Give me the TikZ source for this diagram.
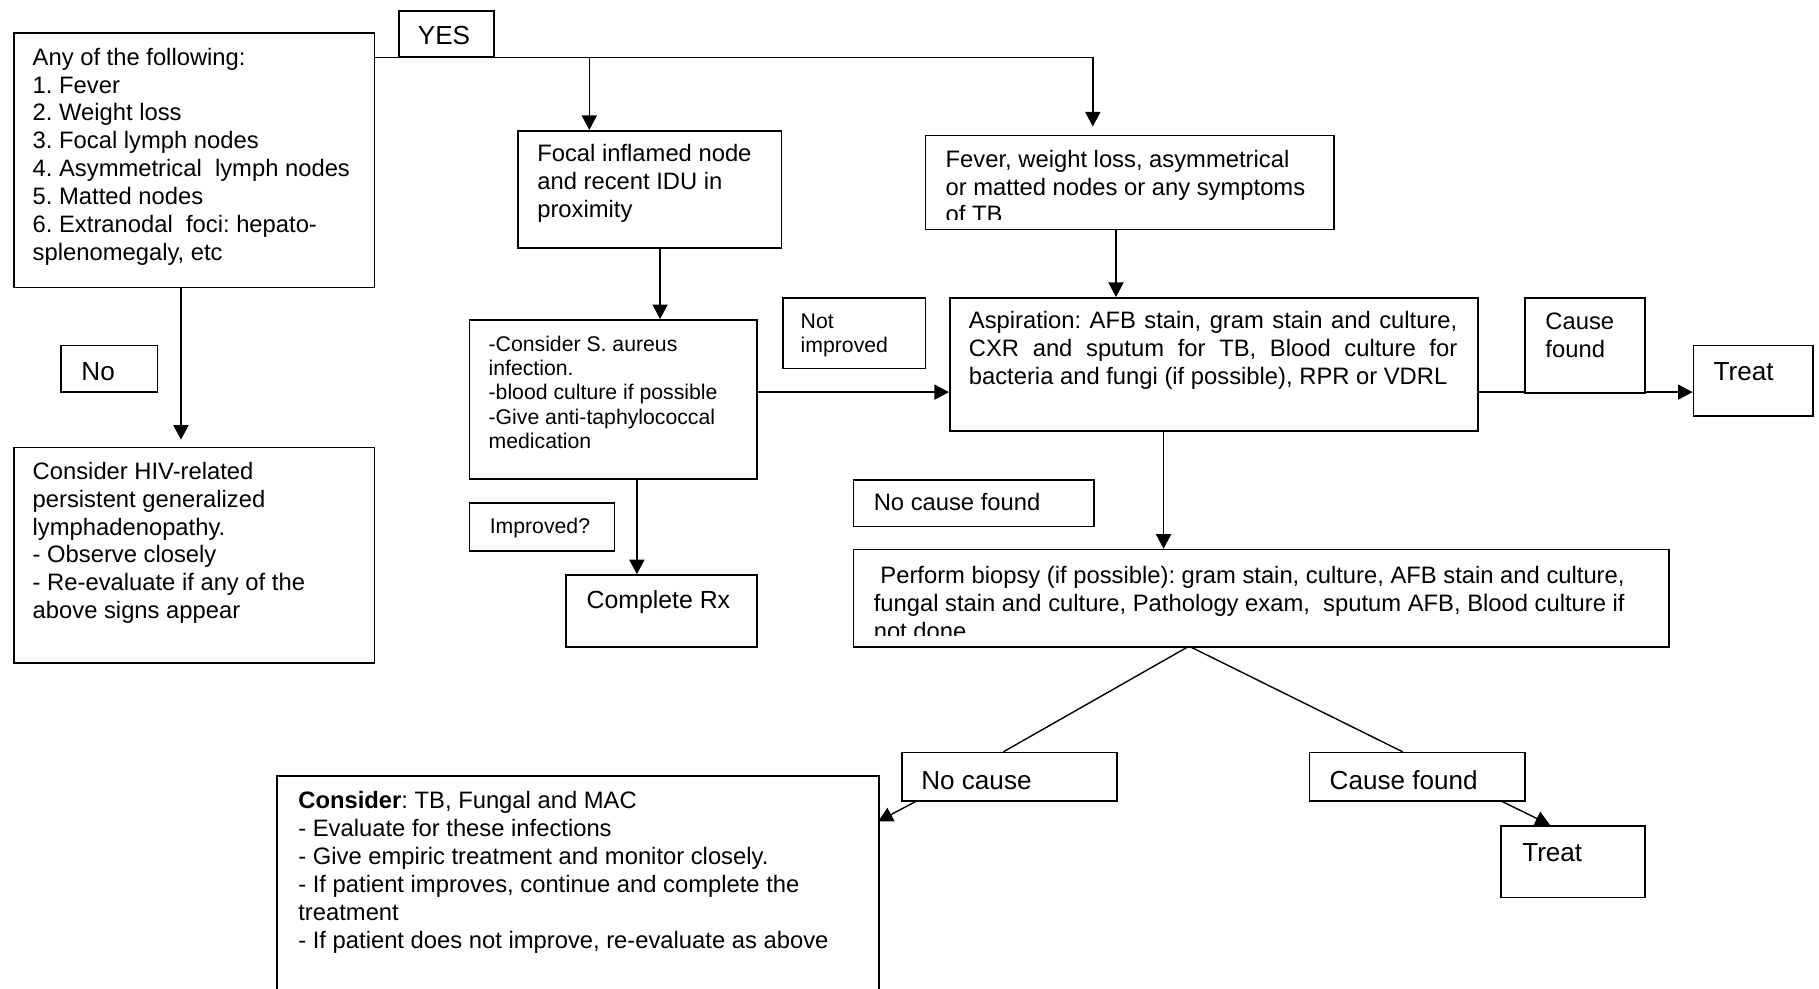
\documentclass[tikz,border=0pt]{standalone}
\usepackage{fontspec}
\setmainfont{Liberation Sans}
\usetikzlibrary{arrows.meta,calc}
\pgfdeclarelayer{bg}
\pgfsetlayers{bg,main}
\frenchspacing
\newcommand{\fm}{\fontsize{20.5}{24}\selectfont}
\newcommand{\fsm}{\fontsize{18.3}{21}\selectfont}
\newcommand{\flg}{\fontsize{22.5}{26}\selectfont}
\newcommand{\tp}{\rule{0pt}{0.8em}}
\newcommand{\mkbox}[5]{\node[bx, minimum width={(#4)-(#2)}, minimum height={(#5)-(#3)}] (#1) at (#2,#3) {};}
\begin{document}
\begin{tikzpicture}[x=1pt,y=-1pt,
  bx/.style={draw, line width=1.5pt, fill=white, inner sep=0pt, anchor=north west},
  tx/.style={anchor=north west, inner sep=0pt, align=left, font=\fm},
  txs/.style={tx, font=\fsm},
  txl/.style={tx, font=\flg},
  arr/.style={line width=1.2pt, -{Triangle[length=12.5pt,width=13pt]}},
  ln/.style={line width=1.2pt}]
\useasboundingbox (0,0) rectangle (1568,852);
\clip (0,0) rectangle (1568,852);

% boxes
\mkbox{A}{11}{28}{322}{247}
\mkbox{yes}{343}{9}{425}{48}
\mkbox{focal}{446}{112}{673}{213}
\mkbox{fever}{797}{116}{1149}{197}
\mkbox{asp}{818}{256}{1273}{371}
\mkbox{saur}{404}{275}{652}{412}
\mkbox{notimp}{674}{256}{797}{317}
\mkbox{cfa}{1314}{256}{1417}{338}
\mkbox{treata}{1459}{297}{1562}{358}
\mkbox{no}{52}{297}{135}{337}
\mkbox{hiv}{11}{385}{322}{571}
\mkbox{imp}{404}{433}{529}{474}
\mkbox{rx}{487}{495}{652}{557}
\mkbox{ncf}{735}{413}{942}{453}
\mkbox{biopsy}{735}{473}{1438}{557}
\mkbox{nocause}{777}{648}{962}{690}
\mkbox{cfb}{1128}{648}{1314}{690}
\mkbox{treatb}{1293}{711}{1417}{773}
\mkbox{cons}{238}{668}{757}{880}

% texts
\node[tx] (A-t) at (28,39.6) {\tp Any of the following:\\1. Fever\\2. Weight loss\\3. Focal lymph nodes\\4. Asymmetrical\ \ lymph nodes\\5. Matted nodes\\6. Extranodal\ \ foci: hepato-\\splenomegaly, etc};
\node[txl] (yes-t) at (360,20) {\tp YES};
\node[tx] (focal-t) at (463,122.6) {\tp Focal inflamed node\\and recent IDU in\\proximity};
\begin{scope}
\clip (fever.north west) rectangle ([yshift=9.5pt]fever.south east);
\node[tx] (fever-t) at (815,127.6) {\tp Fever, weight loss, asymmetrical\\or matted nodes or any symptoms\\of TB};
\end{scope}
\node[tx, text width=421pt, align=justify] (asp-t) at (835,266.6) {\tp Aspiration: AFB stain, gram stain and culture,\linebreak CXR and sputum for TB, Blood culture for\linebreak bacteria and fungi (if possible), RPR or VDRL};
\node[txs] (saur-t) at (421,287.9) {\tp -Consider S. aureus\\infection.\\-blood culture if possible\\-Give anti-taphylococcal\\medication};
\node[txs] (notimp-t) at (690,267.9) {\tp Not\\improved};
\node[tx] (cfa-t) at (1332,267.6) {\tp Cause\\found};
\node[txl] (treata-t) at (1477,310) {\tp Treat};
\node[txl] (no-t) at (70,310) {\tp No};
\node[tx] (hiv-t) at (28,396.6) {\tp Consider HIV-related\\persistent generalized\\lymphadenopathy.\\- Observe closely\\- Re-evaluate if any of the\\above signs appear};
\node[txs] (imp-t) at (422,444.9) {\tp Improved?};
\node[tx, font=\fontsize{21.4}{26}\selectfont] (rx-t) at (505.5,507.3) {\tp Complete Rx};
\node[tx] (ncf-t) at (753,423.6) {\tp No cause found};
\begin{scope}
\clip (biopsy.north west) rectangle ([yshift=10.5pt]biopsy.south east);
\node[tx] (biopsy-t) at (753,486.6) {\tp\hspace*{0.28em}Perform biopsy (if possible): gram stain, culture, AFB stain and culture,\\fungal stain and culture, Pathology exam,\ \ sputum AFB, Blood culture if\\not done};
\end{scope}
\node[txl] (nocause-t) at (794,662) {\tp No cause};
\node[txl] (cfb-t) at (1146,662) {\tp Cause found};
\node[txl] (treatb-t) at (1312,724) {\tp Treat};
\node[tx] (cons-t) at (257,680.6) {\tp\textbf{Consider}: TB, Fungal and MAC\\- Evaluate for these infections\\- Give empiric treatment and monitor closely.\\- If patient improves, continue and complete the\\treatment\\- If patient does not improve, re-evaluate as above};

% connectors
\begin{pgfonlayer}{bg}
\coordinate (fvin) at (942,116);
\coordinate (fcin) at (508,112);
\coordinate (sain) at (569,275);
\coordinate (aspin) at (962,256);
\coordinate (aspl) at (818,338);
\coordinate (hivin) at (156,385);
\coordinate (rxin) at (549,495);
\coordinate (bxin) at (1003,473);
\coordinate (apex) at (1025,557);
\coordinate (nctop) at (865,648);
\coordinate (cftop) at (1209,648);
\coordinate (ncout) at (791,690);
\coordinate (consin) at (757,708);
\coordinate (cfout) at (1293,690);
\coordinate (trbin) at (1336,711);
\draw[arr, shorten >=7pt] (A.east |- yes.south) -| (fvin);
\draw[arr] (yes.south -| fcin) -- (fcin);
\draw[arr] (focal.south -| sain) -- (sain);
\draw[arr] (fever.south -| aspin) -- (aspin);
\draw[arr] (saur.east |- aspl) -- (aspl);
\draw[arr] (asp.east |- aspl) -- (treata.west |- aspl);
\draw[arr, shorten >=6pt] (A.south -| hivin) -- (hivin);
\draw[arr] (saur.south -| rxin) -- (rxin);
\draw[arr] (asp.south -| bxin) -- (bxin);
\draw[ln] (apex) -- (nctop);
\draw[ln] (apex) -- (cftop);
\draw[arr] (ncout) -- (consin);
\draw[arr] (cfout) -- (trbin);
\end{pgfonlayer}
\end{tikzpicture}
\end{document}
